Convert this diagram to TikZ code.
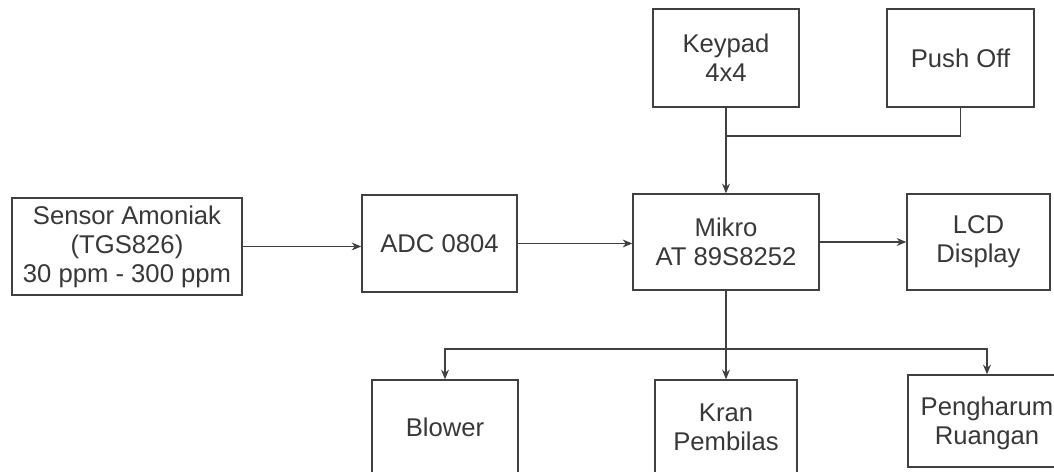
\documentclass[tikz,border=0pt]{standalone}
\usepackage{fontspec}
\setmainfont{Liberation Sans}
\usetikzlibrary{positioning,arrows.meta}
\tikzset{
  blok/.style={draw=black!75,line width=0.8pt,inner sep=0,align=center,
    text=black!78,font=\fontsize{14.6}{16.5}\selectfont},
  garis/.style={draw=black!75,line width=0.8pt}
}
\begin{document}
\begin{tikzpicture}[x=0.02cm,y=-0.02cm,>={Stealth[length=5.5pt,width=4.5pt]}]
  \useasboundingbox (0,0) rectangle (1054,472);
  \clip (0,0) rectangle (1054,472);
  % input side
  \node[blok,minimum width=4.6cm,minimum height=1.94cm] (sensor) at (127,246.5) {Sensor Amoniak\\(TGS826)\\30 ppm - 300 ppm};
  \node[blok,minimum width=3.1cm,minimum height=1.94cm] (adc) at (439.5,243.5) {ADC 0804};
  \node[blok,minimum width=3.72cm,minimum height=1.92cm] (mikro) at (726,242) {Mikro\\AT 89S8252};
  \node[blok,minimum width=2.86cm,minimum height=1.92cm] (lcd) at (978.5,242) {LCD\\Display};
  % top inputs
  \node[blok,minimum width=2.92cm,minimum height=1.96cm] (keypad) at (726,58) {Keypad\\4x4};
  \node[blok,minimum width=2.94cm,minimum height=1.96cm] (pushoff) at (960.5,58) {Push Off};
  % outputs
  \node[blok,minimum width=2.92cm,minimum height=1.88cm] (blower) at (445,427) {Blower};
  \node[blok,minimum width=2.84cm,minimum height=1.88cm] (kran) at (726,427) {Kran\\Pembilas};
  \node[blok,minimum width=3.16cm,minimum height=1.84cm,text depth=0pt] (wangi) at (987,421) {Pengharum\\Ruangan};
  % connectors
  \draw[garis,->] (sensor.east) -- (sensor.east -| adc.west);
  \draw[garis,->] (adc.east) -- (adc.east -| mikro.west);
  \draw[garis,->] (mikro) -- (lcd);
  \draw[garis,->] (keypad) -- (mikro);
  \coordinate (gabung) at (726,136);
  \draw[garis] (pushoff.south) |- (gabung);
  \draw[garis,->] (mikro) -- (kran);
  \coordinate (cabang) at (726,349);
  \draw[garis,->] (cabang) -| (blower.north);
  \draw[garis,->] (cabang) -| (wangi.north);
\end{tikzpicture}
\end{document}
